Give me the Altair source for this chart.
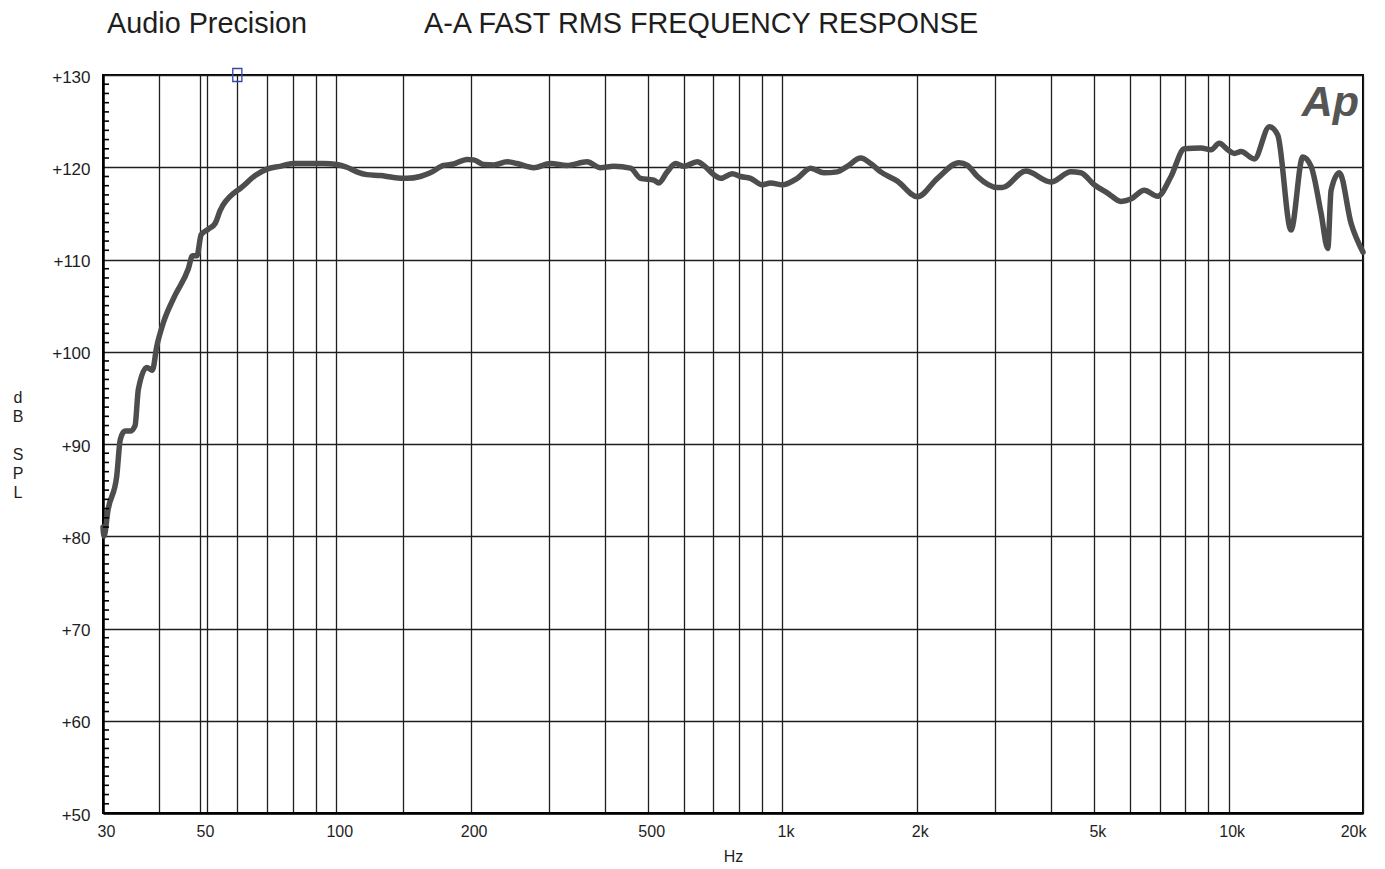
import altair as alt
import pandas as pd

# Frequency response (Hz, dB SPL)
freq = [30.0, 30.15, 30.8, 32.2, 32.8, 33.6, 34.5, 35.4, 36.0, 37.6,
        38.7, 39.6, 41.0, 43.5, 46.6, 47.6, 48.7, 49.8, 51.7, 53.5,
        54.9, 59.3, 60.9, 65.8, 69.9, 74.8, 80.2, 93.6, 100.3, 105.6,
        111.2, 117.1, 125.5, 134.4, 144.0, 154.2, 162.4, 174.0, 183.2, 196.3,
        203.1, 213.9, 225.3, 241.4, 254.2, 277.0, 301.9, 329.1, 364.8, 390.7,
        418.6, 456.3, 480.6, 514.9, 528.2, 551.6, 575.8, 601.0, 644.0, 666.3,
        701.6, 726.3, 771.6, 805.4, 848.1, 901.1, 940.5, 999.0, 1079, 1156,
        1238, 1327, 1397, 1497, 1576, 1660, 1809, 2007, 2225, 2487,
        2597, 2735, 3033, 3111, 3510, 3993, 4428, 4663, 4996, 5353,
        5734, 6037, 6468, 6931, 7425, 7954, 8668, 9129, 9528, 9950,
        10295, 10660, 11415, 12334, 12879, 13794, 14656, 15299, 16111, 16677,
        16964, 17706, 18812, 20000]
spl = [81.0, 80.0, 82.9, 86.5, 90.5, 91.4, 91.4, 92.0, 95.9, 98.3,
       98.0, 100.6, 103.2, 106.1, 109.0, 110.4, 110.4, 112.7, 113.3, 113.9,
       115.3, 117.3, 117.7, 119.1, 119.8, 120.1, 120.4, 120.4, 120.3, 120.0,
       119.5, 119.2, 119.1, 118.9, 118.8, 119.0, 119.4, 120.2, 120.35, 120.85,
       120.8, 120.3, 120.25, 120.6, 120.4, 119.95, 120.4, 120.2, 120.6, 119.95,
       120.1, 119.9, 118.8, 118.6, 118.3, 119.5, 120.4, 120.1, 120.6, 120.2,
       119.2, 118.8, 119.3, 119.0, 118.8, 118.1, 118.3, 118.1, 118.8, 119.9,
       119.4, 119.5, 120.1, 121.0, 120.4, 119.5, 118.5, 116.8, 118.8, 120.5,
       120.2, 119.0, 117.8, 117.8, 119.6, 118.4, 119.5, 119.4, 118.1, 117.2,
       116.3, 116.55, 117.5, 116.85, 119.0, 122.0, 122.1, 121.9, 122.6, 121.9,
       121.5, 121.7, 120.9, 124.4, 123.5, 113.2, 121.1, 120.1, 115.0, 111.2,
       117.5, 119.4, 113.9, 110.8]

# Axis tick / grid values
grid_freqs = [30, 40, 49.5, 50, 51.2, 60, 70, 80, 90, 100, 141, 200, 300, 400,
              500, 600, 700, 800, 900, 1000, 2000, 3000, 4000, 5000, 6000,
              7000, 8000, 9000, 10000, 20000]
label_freqs = [30, 50, 100, 200, 500, 1000, 2000, 5000, 10000, 20000]
db_major = [50, 60, 70, 80, 90, 100, 110, 120, 130]
db_minor = [v for v in range(51, 130) if v % 10 != 0]

cursor_freq = [60]
cursor_db = [130]

FONT = "Liberation Sans"
INK = "#1e1e1e"

df = pd.DataFrame({"freq": freq, "db": spl})
xs = alt.Scale(type="log", domain=[30, 20000], nice=False)
ys = alt.Scale(domain=[50, 130], nice=False)

label_list = ",".join(str(v) for v in label_freqs)
label_expr = (f"indexof([{label_list}], datum.value) >= 0 ? "
              "(datum.value >= 1000 ? (datum.value / 1000) + 'k' : '' + datum.value) : ''")

xaxis = alt.Axis(
    values=grid_freqs, labelExpr=label_expr, grid=True,
    gridColor=INK, gridWidth=1.3,
    gridOpacity={"condition": {"test": "datum.value == 50", "value": 0}, "value": 1},
    ticks=False, domain=True, domainColor="black", domainWidth=2.5,
    labelFont=FONT, labelFontSize=16, labelColor=INK, labelPadding=10,
    labelOffset=3,
    labelAlign={"condition": {"test": "datum.value == 20000", "value": "right"}, "value": "center"},
    labelOverlap=False, labelBound=False, labelFlush=False,
    title="Hz", titleFont=FONT, titleFontSize=16, titleFontWeight="normal",
    titleColor=INK, titlePadding=9)
yaxis = alt.Axis(
    values=db_major, labelExpr="'+' + datum.value", grid=True,
    gridColor=INK, gridWidth=1.3, ticks=False,
    domain=True, domainColor="black", domainWidth=2.5,
    labelFont=FONT, labelFontSize=17, labelColor=INK, labelPadding=13,
    labelBaseline="middle", labelOffset=2, labelOverlap=False, title=None)

line = alt.Chart(df).mark_line(
    color="#4d4d4d", strokeWidth=5.5, interpolate="monotone",
    strokeJoin="round", strokeCap="round"
).encode(
    x=alt.X("freq:Q", scale=xs, axis=xaxis),
    y=alt.Y("db:Q", scale=ys, axis=yaxis),
)

minor = alt.Chart(pd.DataFrame({"db": db_minor})).mark_rule(
    color="black", strokeWidth=1.6
).encode(
    y=alt.Y("db:Q", scale=ys, axis=yaxis),
    x=alt.value(0), x2=alt.value(6),
)

cursor = alt.Chart(pd.DataFrame({"freq": cursor_freq, "db": cursor_db})).mark_point(
    shape="M-0.7,-1L0.7,-1L0.7,1L-0.7,1Z", size=169, filled=False,
    stroke="#3447b0", strokeWidth=1.3, opacity=1
).encode(
    x=alt.X("freq:Q", scale=xs, axis=xaxis),
    y=alt.Y("db:Q", scale=ys, axis=yaxis),
)

one = alt.Data(values=[{"k": 1}])

def label(text, x, y, size, **kw):
    return alt.Chart(one).mark_text(
        text=text, font=FONT, fontSize=size, color=kw.pop("color", INK),
        align=kw.pop("align", "left"), baseline=kw.pop("baseline", "alphabetic"), **kw
    ).encode(x=alt.value(x), y=alt.value(y))

t1 = label("Audio Precision", 4, -42, 28.8)
t2 = label("A-A FAST RMS FREQUENCY RESPONSE", 321, -42, 28.8)
ylab1 = label("d\nB", -85, 328, 16, align="center", lineBreak="\n", lineHeight=19)
ylab2 = label("S\nP\nL", -85, 385, 16, align="center", lineBreak="\n", lineHeight=19)
ap = label("Ap", 1256, 41, 43, color="#555555", fontWeight="bold", fontStyle="italic",
           align="right")

chart = alt.layer(line, minor, cursor, t1, t2, ylab1, ylab2, ap).properties(
    width=1260, height=738,
    autosize=alt.AutoSizeParams(type="none"),
    padding={"left": 95, "top": 67, "right": 14, "bottom": 56},
    background="white",
).configure_view(stroke="black", strokeWidth=2)

chart.save("out.html", embed_options={"renderer": "svg", "actions": False})
